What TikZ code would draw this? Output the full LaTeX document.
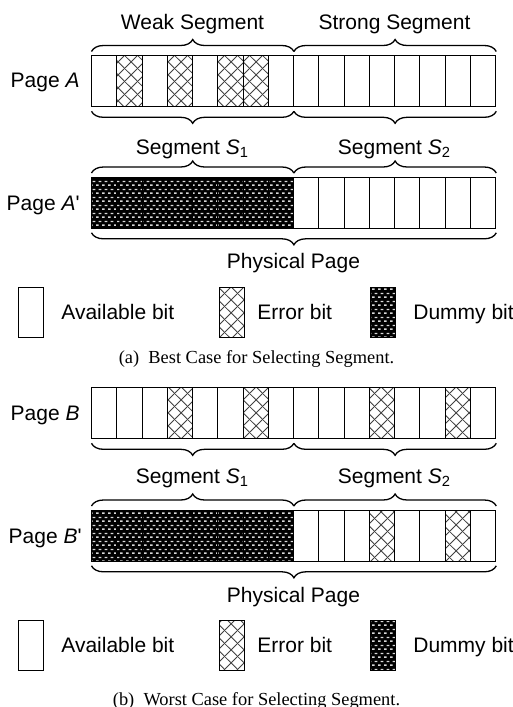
\documentclass[tikz,border=0pt]{standalone}
\usepackage{fontspec}
\setmainfont{Liberation Serif}
\newfontfamily\labelfont{Liberation Sans}
\usetikzlibrary{patterns, decorations.pathreplacing, positioning, calc}

% cross-hatched error bit
\pgfdeclarepatternformonly{xdiamonds}{\pgfpointorigin}{\pgfqpoint{6.25pt}{6.25pt}}{\pgfqpoint{6.25pt}{6.25pt}}{
  \pgfsetlinewidth{0.45pt}
  \pgfpathmoveto{\pgfqpoint{-0.5pt}{-0.5pt}}\pgfpathlineto{\pgfqpoint{6.75pt}{6.75pt}}
  \pgfpathmoveto{\pgfqpoint{-0.5pt}{6.75pt}}\pgfpathlineto{\pgfqpoint{6.75pt}{-0.5pt}}
  \pgfusepath{stroke}}
% white dashes on black for dummy bit
\pgfdeclarepatternformonly{bitbricks}{\pgfpointorigin}{\pgfqpoint{3pt}{4pt}}{\pgfqpoint{3pt}{4pt}}{
  \pgfpathrectangle{\pgfqpoint{0pt}{0.65pt}}{\pgfqpoint{1.5pt}{0.75pt}}
  \pgfpathrectangle{\pgfqpoint{1.5pt}{2.65pt}}{\pgfqpoint{1.5pt}{0.75pt}}
  \pgfusepath{fill}}

\begin{document}
\begin{tikzpicture}[x=0.5pt, y=-0.5pt,
    pagerow/.style={minimum width=202pt, minimum height=25.5pt, inner sep=0pt, anchor=north west},
    cell/.style={draw, line width=0.5pt},
    errcell/.style={cell, preaction={fill=white}, pattern=xdiamonds, pattern color=black!75},
    dummycell/.style={cell, preaction={fill=black}, pattern=bitbricks, pattern color=white!85!black},
    brc/.style={decorate, decoration={brace, amplitude=6pt}, line width=0.65pt},
    brcdown/.style={decorate, decoration={brace, amplitude=6pt, mirror}, line width=0.65pt},
    lbl/.style={font=\labelfont\fontsize{10.5}{12}\selectfont, inner sep=0pt, anchor=base},
    capt/.style={font=\fontsize{9.2}{11}\selectfont, inner sep=0pt, anchor=base}]
  \useasboundingbox (0,0) rectangle (513,707);

  % ---- (a) best case ----
  \node[pagerow] (pA) at (91.5,55.5) {};
  \foreach \i in {0,...,15} {
    \draw[cell] ({91.5+25.25*\i},55.5) rectangle ++(25.25,51);
  }
  \foreach \i in {1,3,5,6} {
    \draw[errcell] ({91.5+25.25*\i},55.5) rectangle ++(25.25,51);
  }
  \node[lbl, anchor=base east] (lA) at (80,87.5) {Page \textit{A}};
  \draw[brc] ([yshift=2pt]pA.north west) -- ([yshift=2pt]pA.north);
  \draw[brc] ([yshift=2pt]pA.north) -- ([yshift=2pt]pA.north east);
  \node[lbl] (lWeak) at (192.5,29) {Weak Segment};
  \node[lbl] (lStrong) at (394.5,29) {Strong Segment};
  \draw[brcdown] ([yshift=-2pt]pA.south west) -- ([yshift=-2pt]pA.south);
  \draw[brcdown] ([yshift=-2pt]pA.south) -- ([yshift=-2pt]pA.south east);
  \node[lbl] (lAs1) at (192.5,154) {Segment \textit{S}\textsubscript{1}};
  \node[lbl] (lAs2) at (394.5,154) {Segment \textit{S}\textsubscript{2}};

  \node[pagerow] (pAd) at (91.5,177) {};
  \foreach \i in {0,...,15} {
    \draw[cell] ({91.5+25.25*\i},177) rectangle ++(25.25,51);
  }
  \foreach \i in {0,...,7} {
    \draw[dummycell] ({91.5+25.25*\i},177) rectangle ++(25.25,51);
  }
  \node[lbl, anchor=base east] (lAd) at (80,210) {Page \textit{A}'};
  \draw[brc] ([yshift=2pt]pAd.north west) -- ([yshift=2pt]pAd.north);
  \draw[brc] ([yshift=2pt]pAd.north) -- ([yshift=2pt]pAd.north east);
  \draw[brcdown] ([yshift=-2pt]pAd.south west) -- ([yshift=-2pt]pAd.south east);
  \node[lbl] (lAphys) at (293.5,268) {Physical Page};

  % legend (a)
  \draw[cell] (18,287) rectangle ++(25,50);
  \draw[errcell] (219,287) rectangle ++(25,50);
  \draw[dummycell] (370.5,287) rectangle ++(25,50);
  \node[lbl, anchor=base west] (lAavail) at (61,319) {Available bit};
  \node[lbl, anchor=base west] (lAerr) at (257,319) {Error bit};
  \node[lbl, anchor=base west] (lAdum) at (413,319) {Dummy bit};
  \node[capt] (captA) at (256.5,363) {(a)\ \ Best Case for Selecting Segment.};

  % ---- (b) worst case ----
  \node[pagerow] (pB) at (91.5,387.5) {};
  \foreach \i in {0,...,15} {
    \draw[cell] ({91.5+25.25*\i},387.5) rectangle ++(25.25,51);
  }
  \foreach \i in {3,6,11,14} {
    \draw[errcell] ({91.5+25.25*\i},387.5) rectangle ++(25.25,51);
  }
  \node[lbl, anchor=base east] (lB) at (80,420.5) {Page \textit{B}};
  \draw[brcdown] ([yshift=-2pt]pB.south west) -- ([yshift=-2pt]pB.south);
  \draw[brcdown] ([yshift=-2pt]pB.south) -- ([yshift=-2pt]pB.south east);
  \node[lbl] (lBs1) at (192.5,483.5) {Segment \textit{S}\textsubscript{1}};
  \node[lbl] (lBs2) at (394.5,483.5) {Segment \textit{S}\textsubscript{2}};

  \node[pagerow] (pBd) at (91.5,510) {};
  \foreach \i in {0,...,15} {
    \draw[cell] ({91.5+25.25*\i},510) rectangle ++(25.25,51);
  }
  \foreach \i in {0,...,7} {
    \draw[dummycell] ({91.5+25.25*\i},510) rectangle ++(25.25,51);
  }
  \foreach \i in {11,14} {
    \draw[errcell] ({91.5+25.25*\i},510) rectangle ++(25.25,51);
  }
  \node[lbl, anchor=base east] (lBd) at (82,543.5) {Page \textit{B}'};
  \draw[brc] ([yshift=2pt]pBd.north west) -- ([yshift=2pt]pBd.north);
  \draw[brc] ([yshift=2pt]pBd.north) -- ([yshift=2pt]pBd.north east);
  \draw[brcdown] ([yshift=-2pt]pBd.south west) -- ([yshift=-2pt]pBd.south east);
  \node[lbl] (lBphys) at (293.5,602) {Physical Page};

  % legend (b)
  \draw[cell] (18,620) rectangle ++(25,50);
  \draw[errcell] (219,620) rectangle ++(25,50);
  \draw[dummycell] (370.5,620) rectangle ++(25,50);
  \node[lbl, anchor=base west] (lBavail) at (61,652) {Available bit};
  \node[lbl, anchor=base west] (lBerr) at (257,652) {Error bit};
  \node[lbl, anchor=base west] (lBdum) at (413,652) {Dummy bit};
  \node[capt] (captB) at (256.5,705) {(b)\ \ Worst Case for Selecting Segment.};
\end{tikzpicture}
\end{document}
